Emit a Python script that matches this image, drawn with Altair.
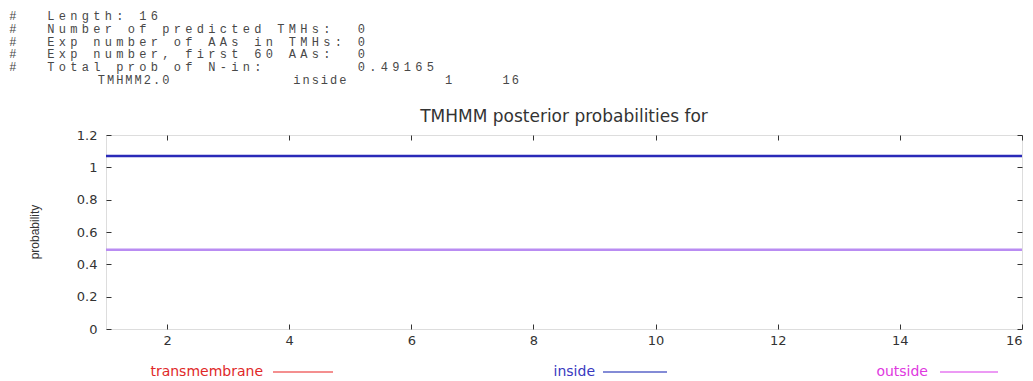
import altair as alt
import pandas as pd

# ---------------- data ----------------
positions = [1, 2, 3, 4, 5, 6, 7, 8, 9, 10, 11, 12, 13, 14, 15, 16]
inside_prob = [1.07, 1.07, 1.07, 1.07, 1.07, 1.07, 1.07, 1.07,
               1.07, 1.07, 1.07, 1.07, 1.07, 1.07, 1.07, 1.07]
outside_prob = [0.49, 0.49, 0.49, 0.49, 0.49, 0.49, 0.49, 0.49,
                0.49, 0.49, 0.49, 0.49, 0.49, 0.49, 0.49, 0.49]

series_names = ["inside", "outside"]
series_colors = ["#2a2ab8", "#b98cf2"]

x_ticks = [2, 4, 6, 8, 10, 12, 14, 16]
y_ticks = [0, 0.2, 0.4, 0.6, 0.8, 1.0, 1.2]

header_lines = [
    "Length: 16",
    "Number of predicted TMHs:  0",
    "Exp number of AAs in TMHs: 0",
    "Exp number, first 60 AAs:  0",
    "Total prob of N-in:        0.49165",
]
summary_tokens = ["TMHMM2.0", "inside", "1", "16"]

title_text = "TMHMM posterior probabilities for"
y_title = "probability"
legend_labels = ["transmembrane", "inside", "outside"]
legend_text_colors = ["#e02828", "#3838c0", "#e038e0"]
legend_line_colors = ["#f06a6a", "#5a64c8", "#e678f0"]

# ---------------- layout ----------------
W, H = 916, 194
PAD = {"left": 98, "top": 127, "right": 3, "bottom": 50}

rows = []
for i, v in enumerate(inside_prob):
    rows.append({"pos": positions[i], "prob": v, "series": "inside"})
for i, v in enumerate(outside_prob):
    rows.append({"pos": positions[i], "prob": v, "series": "outside"})
lines_df = pd.DataFrame(rows)

xdom = [1, 16]
ydom = [0, 1.2]

axis_common = dict(grid=False, domain=False, offset=-5, tickSize=5,
                   tickColor="#333", tickWidth=1, title=None)

lines = alt.Chart(lines_df).mark_line(strokeWidth=2.5).encode(
    x=alt.X("pos:Q", scale=alt.Scale(domain=xdom, nice=False, zero=False),
            axis=alt.Axis(orient="bottom", values=x_ticks, labelPadding=5,
                          labelFont="DejaVu Sans", labelFontSize=13,
                          labelColor="#333", labelFlush=True, **axis_common)),
    y=alt.Y("prob:Q", scale=alt.Scale(domain=ydom, nice=False, zero=False),
            axis=alt.Axis(orient="left", values=y_ticks, format="~g",
                          labelPadding=9, labelFont="DejaVu Sans",
                          labelFontSize=13, labelColor="#333",
                          labelFlush=False, **axis_common)),
    color=alt.Color("series:N", scale=alt.Scale(domain=series_names,
                                                range=series_colors),
                    legend=None),
    detail="series:N",
)

mirror = alt.Chart(lines_df).mark_line(opacity=0).encode(
    x=alt.X("pos:Q", scale=alt.Scale(domain=xdom, nice=False, zero=False),
            axis=alt.Axis(orient="top", values=x_ticks, labels=False,
                          **axis_common)),
    y=alt.Y("prob:Q", scale=alt.Scale(domain=ydom, nice=False, zero=False),
            axis=alt.Axis(orient="right", values=y_ticks, labels=False,
                          **axis_common)),
    detail="series:N",
)

# header text, one glyph per cell of a monospace grid
hrows = []
for r, line in enumerate(header_lines):
    hrows.append({"ch": "#", "col": -3.3, "row": r})
    for c, ch in enumerate(line):
        if ch != " ":
            hrows.append({"ch": ch, "col": c, "row": r})
token_cols = [4.4, 21.4, 34.6, 39.6]
for tok, start in zip(summary_tokens, token_cols):
    for k, ch in enumerate(tok):
        hrows.append({"ch": ch, "col": start + 0.8 * k, "row": 5})
header_df = pd.DataFrame(hrows)

header = alt.Chart(header_df).mark_text(
    font="Liberation Mono", fontSize=12, color="#484848",
    align="center", baseline="middle",
).encode(
    x=alt.X("col:Q", scale=alt.Scale(domain=[0, 40], range=[-55.25, 404.75],
                                     nice=False, zero=False), axis=None),
    y=alt.Y("row:Q", scale=alt.Scale(domain=[0, 5], range=[-119, -55],
                                     nice=False, zero=False), axis=None),
    text="ch:N",
)

one = pd.DataFrame({"k": [0]})
title = alt.Chart(one).mark_text(
    text=title_text, font="DejaVu Sans", fontSize=17, color="#333",
    align="center", baseline="middle",
).encode(x=alt.value(W / 2), y=alt.value(-18))

ylab = alt.Chart(one).mark_text(
    text=y_title, font="Liberation Sans", fontSize=12, color="#333",
    align="center", baseline="middle", angle=270,
).encode(x=alt.value(-71), y=alt.value(H / 2))

legend_text_x = [157, 489, 822]
legend_line_x = [(167, 227), (497, 561), (834, 892)]
LEG_Y = 237
legend_layers = []
for lab, tc, lc, tx, (a, b) in zip(legend_labels, legend_text_colors,
                                     legend_line_colors, legend_text_x,
                                     legend_line_x):
    legend_layers.append(
        alt.Chart(one).mark_text(text=lab, font="DejaVu Sans", fontSize=14,
                                 color=tc, align="right", baseline="middle")
        .encode(x=alt.value(tx), y=alt.value(LEG_Y)))
    legend_layers.append(
        alt.Chart(one).mark_rule(color=lc, strokeWidth=1.5)
        .encode(x=alt.value(a), x2=alt.value(b), y=alt.value(LEG_Y)))

chart = alt.layer(lines, mirror, header, title, ylab, *legend_layers).resolve_scale(
    x="independent", y="independent"
).properties(
    width=W, height=H,
    autosize=alt.AutoSizeParams(type="none"),
    padding=PAD,
).configure_view(stroke="#6a6a6a", strokeWidth=1.5).configure(background="white")

chart.save("out.html", embed_options={"renderer": "svg", "actions": False})
